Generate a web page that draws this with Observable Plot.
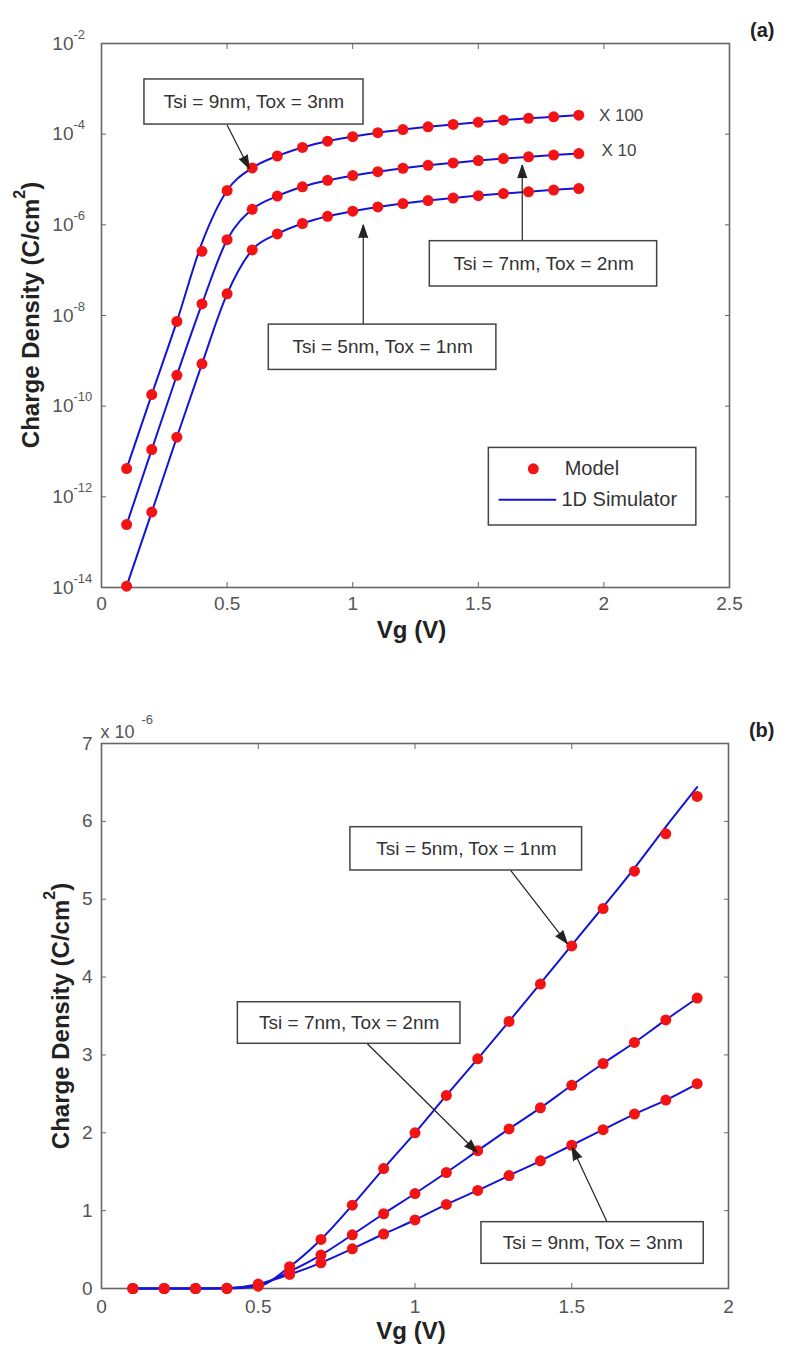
<!DOCTYPE html>
<html>
<head>
<meta charset="utf-8">
<script src="https://cdn.jsdelivr.net/npm/d3@7"></script>
<script src="https://cdn.jsdelivr.net/npm/@observablehq/plot@0.6"></script>
<style>
  body { margin: 0; background: #fff; }
  #fig svg { display: block; }
</style>
</head>
<body>
<div id="fig"></div>
<script>
// Gate voltage sweep (V)
const vg = [0.1, 0.2, 0.3, 0.4, 0.5, 0.6, 0.7, 0.8, 0.9, 1.0, 1.1, 1.2, 1.3, 1.4, 1.5, 1.6, 1.7, 1.8, 1.9];

// Inversion charge density (C/cm^2), analytical model
const model5 = [1.07e-14, 4.6e-13, 2.07e-11, 8.6e-10, 3.0e-8, 2.8e-7, 6.3e-7, 1.07e-6, 1.54e-6, 2.0e-6, 2.48e-6, 2.95e-6, 3.43e-6, 3.91e-6, 4.40e-6, 4.88e-6, 5.36e-6, 5.84e-6, 6.32e-6];
const model7 = [2.45e-14, 1.1e-12, 4.8e-11, 1.8e-9, 4.7e-8, 2.2e-7, 4.3e-7, 6.9e-7, 9.6e-7, 1.22e-6, 1.49e-6, 1.77e-6, 2.05e-6, 2.32e-6, 2.61e-6, 2.89e-6, 3.16e-6, 3.45e-6, 3.73e-6];
const model9 = [4.2e-14, 1.8e-12, 7.4e-11, 2.6e-9, 5.7e-8, 1.8e-7, 3.3e-7, 5.1e-7, 7.0e-7, 8.8e-7, 1.08e-6, 1.26e-6, 1.45e-6, 1.64e-6, 1.84e-6, 2.04e-6, 2.24e-6, 2.42e-6, 2.63e-6];

// Same quantity from the 1D Schrodinger-Poisson simulator
const sim5 = [1.07e-14, 4.6e-13, 2.07e-11, 8.6e-10, 3.0e-8, 2.8e-7, 6.3e-7, 1.07e-6, 1.54e-6, 2.0e-6, 2.48e-6, 2.95e-6, 3.43e-6, 3.92e-6, 4.41e-6, 4.90e-6, 5.40e-6, 5.93e-6, 6.44e-6];
const sim7 = [2.45e-14, 1.1e-12, 4.8e-11, 1.8e-9, 4.7e-8, 2.2e-7, 4.3e-7, 6.9e-7, 9.6e-7, 1.22e-6, 1.49e-6, 1.77e-6, 2.05e-6, 2.32e-6, 2.61e-6, 2.89e-6, 3.16e-6, 3.45e-6, 3.73e-6];
const sim9 = [4.2e-14, 1.8e-12, 7.4e-11, 4.0e-9, 5.7e-8, 1.8e-7, 3.3e-7, 5.1e-7, 7.0e-7, 8.8e-7, 1.08e-6, 1.26e-6, 1.45e-6, 1.64e-6, 1.84e-6, 2.04e-6, 2.24e-6, 2.42e-6, 2.63e-6];

// Device splits and the offset factor used on the log plot
const devices = ["Tsi = 5nm, Tox = 1nm", "Tsi = 7nm, Tox = 2nm", "Tsi = 9nm, Tox = 3nm"];
const logFactor = [1, 10, 100];
const factorLabels = ["", "X 10", "X 100"];

// Axis ticks
const xTicksA = [0, 0.5, 1, 1.5, 2, 2.5];
const yTicksA = [1e-14, 1e-12, 1e-10, 1e-8, 1e-6, 1e-4, 1e-2];
const xTicksB = [0, 0.5, 1, 1.5, 2];
const yTicksB = [0, 1e-6, 2e-6, 3e-6, 4e-6, 5e-6, 6e-6, 7e-6];

const modelSets = [model5, model7, model9];
const simSets = [sim5, sim7, sim9];

function rows(sets, scaled) {
  return sets.flatMap((vals, k) => vals.map((q, i) => ({
    series: devices[k], vg: vg[i], q: scaled ? q * logFactor[k] : q
  })));
}

const FONT = "'Liberation Sans', Arial, Helvetica, sans-serif";
const RED = "#f21414";
const BLUE = "#1414d8";
const INK = "#222";
const fmt = d3.format("~g");

function frameTicks(xTicks, yTicks) {
  const common = { tickSize: -5, tickFormat: () => "", stroke: "#666", label: null };
  return [
    Plot.axisX(xTicks, { ...common, anchor: "bottom" }),
    Plot.axisX(xTicks, { ...common, anchor: "top" }),
    Plot.axisY(yTicks, { ...common, anchor: "left" }),
    Plot.axisY(yTicks, { ...common, anchor: "right" })
  ];
}

// Annotation arrows: a thin shaft plus a filled head pointing along the shaft.
// The head direction is measured in screen space from the chart's own scales.
function arrowMarks(arrows, scales) {
  const heads = arrows.map(a => {
    let rot = 0;
    if (scales) {
      const dx = scales.x.apply(a.x2) - scales.x.apply(a.x1);
      const dy = scales.y.apply(a.y2) - scales.y.apply(a.y1);
      rot = Math.atan2(dx, -dy) * 180 / Math.PI;
    }
    return { ...a, rot };
  });
  return [
    Plot.link(arrows, { x1: "x1", y1: "y1", x2: "x2", y2: "y2", stroke: INK, strokeWidth: 1.2 }),
    Plot.vector(heads, { x: "x2", y: "y2", rotate: "rot", length: 13, r: 4.5, shape: "spike", anchor: "end", fill: INK, stroke: INK, strokeWidth: 1 })
  ];
}

function addYLabel(svg, x, y) {
  const t = d3.select(svg).append("text")
    .attr("transform", `translate(${x},${y}) rotate(-90)`)
    .attr("text-anchor", "middle")
    .attr("dominant-baseline", "central")
    .attr("font-family", FONT)
    .attr("font-weight", "bold")
    .attr("font-size", 24)
    .attr("fill", INK);
  t.append("tspan").text("Charge Density (C/cm");
  t.append("tspan").attr("dy", -11).attr("font-size", 16).text("2");
  t.append("tspan").attr("dy", 11).text(")");
}

// ---------- (a) log scale, curves offset by x10 / x100 ----------
const boxesA = [
  { x1: 0.171, x2: 1.043, y1: 1.61e-3, y2: 1.63e-4, tx: 0.607, ty: 5.1e-4, text: devices[2] },
  { x1: 1.307, x2: 2.212, y1: 4.36e-7, y2: 4.36e-8, tx: 1.76, ty: 1.38e-7, text: devices[1] },
  { x1: 0.666, x2: 1.572, y1: 6.3e-9, y2: 6.3e-10, tx: 1.119, ty: 2.0e-9, text: devices[0] }
];
const arrowsA = [
  { x1: 0.50, y1: 1.6e-4, x2: 0.588, y2: 1.75e-5 },
  { x1: 1.675, y1: 4.36e-7, x2: 1.675, y2: 2.1e-5 },
  { x1: 1.042, y1: 6.3e-9, x2: 1.042, y2: 1.0e-6 }
];
const factorTags = [
  { x: 1.98, y: 2.57e-4, text: factorLabels[2] },
  { x: 1.99, y: 4.37e-5, text: factorLabels[1] }
];

function chartA(scales) {
  return Plot.plot({
    width: 791,
    height: 660,
    marginTop: 43,
    marginLeft: 101,
    marginRight: 62,
    marginBottom: 73,
    style: { fontFamily: FONT, background: "#fff", overflow: "visible" },
    x: { domain: [0, 2.5] },
    y: { type: "log", domain: [1e-14, 1e-2] },
    marks: [
      Plot.frame({ stroke: "#666", strokeWidth: 1.6 }),
      ...frameTicks(xTicksA, yTicksA),
      Plot.axisX(xTicksA, { anchor: "bottom", tickSize: 0, tickPadding: 9, tickFormat: fmt, fontSize: 19, fill: "#555", label: null }),
      Plot.text(yTicksA, { y: d => d, text: () => "10", frameAnchor: "left", textAnchor: "end", dx: -28, fontSize: 19, fill: "#555" }),
      Plot.text(yTicksA, { y: d => d, text: d => String(Math.round(Math.log10(d))), frameAnchor: "left", textAnchor: "start", dx: -28, dy: -9, fontSize: 13, fill: "#555" }),
      Plot.line(rows(simSets, true), { x: "vg", y: "q", z: "series", stroke: BLUE, strokeWidth: 2, curve: "monotone-x" }),
      Plot.dot(rows(modelSets, true), { x: "vg", y: "q", r: 5.5, fill: RED }),
      Plot.text(factorTags, { x: "x", y: "y", text: "text", textAnchor: "start", fontSize: 17, fill: "#444" }),
      ...arrowMarks(arrowsA, scales),
      Plot.rect(boxesA, { x1: "x1", x2: "x2", y1: "y1", y2: "y2", fill: "#fff", stroke: "#444", strokeWidth: 1.5 }),
      Plot.text(boxesA, { x: "tx", y: "ty", text: "text", fontSize: 19, fill: "#333" }),
      // legend
      Plot.rect([{}], { x1: 1.542, x2: 2.368, y1: 1.2e-11, y2: 2.33e-13, fill: "#fff", stroke: "#444", strokeWidth: 1.5 }),
      Plot.dot([{}], { x: () => 1.719, y: () => 4.14e-12, r: 5.5, fill: RED }),
      Plot.text([{}], { x: () => 1.844, y: () => 4.14e-12, text: () => "Model", textAnchor: "start", fontSize: 20, fill: "#333" }),
      Plot.line([{ x: 1.584, y: 8.6e-13 }, { x: 1.807, y: 8.6e-13 }], { x: "x", y: "y", stroke: BLUE, strokeWidth: 2 }),
      Plot.text([{}], { x: () => 1.831, y: () => 8.6e-13, text: () => "1D Simulator", textAnchor: "start", fontSize: 20, fill: "#333" }),
      Plot.text(["Vg (V)"], { frameAnchor: "bottom", dy: 50, dx: -4, fontSize: 24, fontWeight: "bold", fill: INK }),
      Plot.text(["(a)"], { frameAnchor: "top-right", dx: 45, dy: -21, fontSize: 20, fontWeight: "bold", fill: INK })
    ]
  });
}

// ---------- (b) linear scale ----------
const boxesB = [
  { x1: 0.794, x2: 1.533, y1: 5.925e-6, y2: 5.369e-6, tx: 1.164, ty: 5.647e-6, text: devices[0] },
  { x1: 0.435, x2: 1.145, y1: 3.677e-6, y2: 3.143e-6, tx: 0.79, ty: 3.41e-6, text: devices[1] },
  { x1: 1.212, x2: 1.921, y1: 0.852e-6, y2: 0.317e-6, tx: 1.567, ty: 0.585e-6, text: devices[2] }
];
const arrowsB = [
  { x1: 1.305, y1: 5.369e-6, x2: 1.486, y2: 4.43e-6 },
  { x1: 0.848, y1: 3.143e-6, x2: 1.198, y2: 1.75e-6 },
  { x1: 1.613, y1: 0.852e-6, x2: 1.501, y2: 1.815e-6 }
];

function chartB(scales) {
  return Plot.plot({
    width: 791,
    height: 692,
    marginTop: 83,
    marginLeft: 101,
    marginRight: 63,
    marginBottom: 64,
    style: { fontFamily: FONT, background: "#fff", overflow: "visible" },
    x: { domain: [0, 2] },
    y: { domain: [0, 7e-6] },
    marks: [
      Plot.frame({ stroke: "#666", strokeWidth: 1.6 }),
      ...frameTicks(xTicksB, yTicksB),
      Plot.axisX(xTicksB, { anchor: "bottom", tickSize: 0, tickPadding: 11, tickFormat: fmt, fontSize: 19, fill: "#555", label: null }),
      Plot.axisY(yTicksB, { anchor: "left", tickSize: 0, tickPadding: 9, tickFormat: d => fmt(Math.round(d * 1e6)), fontSize: 19, fill: "#555", label: null }),
      Plot.text(["x 10"], { frameAnchor: "top-left", textAnchor: "start", dx: -1, dy: -18, fontSize: 18, fill: "#555" }),
      Plot.text(["-6"], { frameAnchor: "top-left", textAnchor: "start", dx: 40, dy: -29, fontSize: 13, fill: "#555" }),
      Plot.line(rows(simSets, false), { x: "vg", y: "q", z: "series", stroke: BLUE, strokeWidth: 2, curve: "monotone-x" }),
      Plot.dot(rows(modelSets, false), { x: "vg", y: "q", r: 5.5, fill: RED }),
      ...arrowMarks(arrowsB, scales),
      Plot.rect(boxesB, { x1: "x1", x2: "x2", y1: "y1", y2: "y2", fill: "#fff", stroke: "#444", strokeWidth: 1.5 }),
      Plot.text(boxesB, { x: "tx", y: "ty", text: "text", fontSize: 19, fill: "#333" }),
      Plot.text(["Vg (V)"], { frameAnchor: "bottom", dy: 50, dx: -4, fontSize: 24, fontWeight: "bold", fill: INK }),
      Plot.text(["(b)"], { frameAnchor: "top-right", dx: 46, dy: -21, fontSize: 20, fontWeight: "bold", fill: INK })
    ]
  });
}

// First pass gives the screen scales; second pass draws with correctly oriented arrowheads.
function build(make) {
  const probe = make(null);
  return make({ x: probe.scale("x"), y: probe.scale("y") });
}

const svgA = build(chartA);
const svgB = build(chartB);
addYLabel(svgA, 30, 315);
addYLabel(svgB, 60, 356);

document.getElementById("fig").append(svgA, svgB);
</script>
</body>
</html>
